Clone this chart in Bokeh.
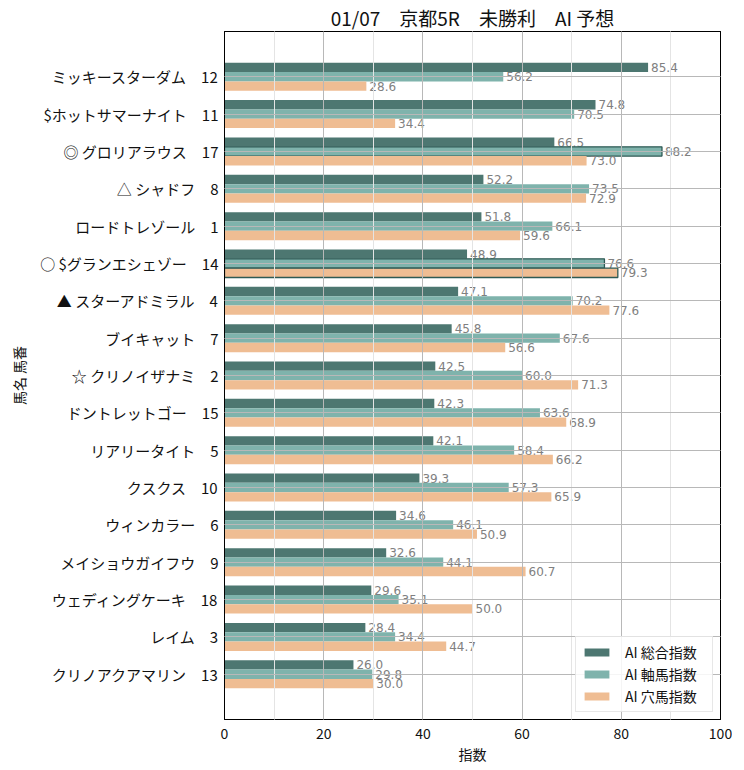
from bokeh.plotting import figure
from bokeh.models import (ColumnDataSource, Range1d, FixedTicker, LinearAxis,
                          Legend, LegendItem)
from bokeh.core.properties import value
from bokeh.embed import file_html
from bokeh.resources import INLINE

FONT = "Noto Sans CJK JP"

names = ["ミッキースターダム", "$ホットサマーナイト", "◎ グロリアラウス", "△ シャドフ",
         "ロードトレゾール", "○ $グランエシェゾー", "▲ スターアドミラル", "ブイキャット",
         "☆ クリノイザナミ", "ドントレットゴー", "リアリータイト", "クスクス",
         "ウィンカラー", "メイショウガイフウ", "ウェディングケーキ", "レイム", "クリノアクアマリン"]
numbers = [12, 11, 17, 8, 1, 14, 4, 7, 2, 15, 5, 10, 6, 9, 18, 3, 13]
total_idx = [85.4, 74.8, 66.5, 52.2, 51.8, 48.9, 47.1, 45.8, 42.5, 42.3, 42.1, 39.3,
             34.6, 32.6, 29.6, 28.4, 26.0]
axis_idx = [56.2, 70.5, 88.2, 73.5, 66.1, 76.6, 70.2, 67.6, 60.0, 63.6, 58.4, 57.3,
            46.1, 44.1, 35.1, 34.4, 29.8]
ana_idx = [28.6, 34.4, 73.0, 72.9, 59.6, 79.3, 77.6, 56.6, 71.3, 68.9, 66.2, 65.9,
           50.9, 60.7, 50.0, 44.7, 30.0]
axis_outlined = [0, 0, 1, 0, 0, 1, 0, 0, 0, 0, 0, 0, 0, 0, 0, 0, 0]
ana_outlined = [0, 0, 0, 0, 0, 1, 0, 0, 0, 0, 0, 0, 0, 0, 0, 0, 0]

series_names = ["AI 総合指数", "AI 軸馬指数", "AI 穴馬指数"]
colors = ["#4d7771", "#7fb3ac", "#efbd93"]
title = "01/07　京都5R　未勝利　AI 予想"
x_ticks = [0, 20, 40, 60, 80, 100]
x_minor = [10, 30, 50, 70, 90]

n = len(names)
ypos = [n - 1 - i for i in range(n)]
labels = {ypos[i]: f"{names[i]}　{numbers[i]}" for i in range(n)}

p = figure(frame_width=496, frame_height=688, output_backend="svg", toolbar_location=None,
           x_range=Range1d(0, 100), y_range=Range1d(-1.2125, 17.2125),
           min_border_left=224, min_border_right=12, min_border_top=24, min_border_bottom=40)
p.title.text = title
p.title.align = "center"
p.title.text_font = FONT
p.title.text_font_size = "19px"
p.title.text_font_style = "normal"
p.title.text_color = "#111111"
p.title.standoff = 2

bh = 0.25
offsets = [bh, 0.0, -bh]
vals = [total_idx, axis_idx, ana_idx]
outl = [[0] * n, axis_outlined, ana_outlined]
renderers = []
for k in range(3):
    src = ColumnDataSource(dict(y=[y + offsets[k] for y in ypos], right=vals[k],
                                la=[1.0 if o else 0.0 for o in outl[k]],
                                txt=[f"{v:.1f}" for v in vals[k]]))
    r = p.hbar(y="y", left=0, right="right", height=bh, source=src,
               fill_color=colors[k], line_color="#2e5a54", line_alpha="la", line_width=1.3)
    renderers.append(r)
    p.text(x="right", y="y", text="txt", source=src, x_offset=3, text_baseline="middle",
           text_font=value("DejaVu Sans"), text_font_size="12px", text_color="#808080")

xt = FixedTicker(ticks=x_ticks, minor_ticks=x_minor)
yt = FixedTicker(ticks=ypos, minor_ticks=[])

p.xaxis.ticker = xt
p.yaxis.ticker = yt
p.yaxis.major_label_overrides = labels
p.xgrid.ticker = xt
p.ygrid.ticker = yt
p.xgrid.grid_line_color = "#b8b8b8"
p.ygrid.grid_line_color = "#b8b8b8"
p.xgrid.minor_grid_line_color = "#e4e4e4"
p.xgrid.level = "annotation"
p.ygrid.level = "annotation"

for ax in [p.xaxis[0], p.yaxis[0]]:
    ax.major_tick_in = 4
    ax.major_tick_out = 0
    ax.minor_tick_in = 2
    ax.minor_tick_out = 0
    ax.major_label_text_font = FONT
    ax.major_label_text_font_size = "14px"
    ax.major_label_text_color = "#111111"
    ax.axis_label_text_font = FONT
    ax.axis_label_text_font_size = "14px"
    ax.axis_label_text_font_style = "normal"
    ax.axis_label_text_color = "#111111"
    ax.axis_line_color = "black"
    ax.major_tick_line_color = "black"
    ax.minor_tick_line_color = "black"
p.yaxis.major_label_text_font_size = "15px"
p.xaxis.axis_label = "指数"
p.yaxis.axis_label = "馬名 馬番"
p.xaxis.major_label_standoff = 8
p.xaxis.axis_label_standoff = 2
p.yaxis.major_label_standoff = 6
p.yaxis.axis_label_standoff = 8

right_ax = LinearAxis(ticker=yt, major_tick_in=4, major_tick_out=0, minor_tick_in=0,
                      minor_tick_out=0, major_label_overrides={t: "" for t in ypos},
                      major_label_standoff=0, axis_line_color="black")
top_ax = LinearAxis(ticker=xt, major_tick_in=4, major_tick_out=0, minor_tick_in=2,
                    minor_tick_out=0, major_label_overrides={t: "" for t in x_ticks},
                    major_label_standoff=0, axis_line_color="black")
p.add_layout(right_ax, "right")
p.add_layout(top_ax, "above")
p.outline_line_color = "black"

legend = Legend(items=[LegendItem(label=series_names[k], renderers=[renderers[k]]) for k in range(3)],
                location="bottom_right")
legend.label_text_font = FONT
legend.label_text_font_size = "14px"
legend.label_text_color = "#111111"
legend.glyph_width = 31
legend.glyph_height = 10
legend.label_height = 16
legend.label_width = 82
legend.spacing = 2
legend.padding = 5
legend.margin = 7
legend.label_standoff = 13
legend.border_line_color = "#d0d0d0"
legend.background_fill_alpha = 0.85
p.add_layout(legend)

open("out.html", "w").write(file_html(p, INLINE))
